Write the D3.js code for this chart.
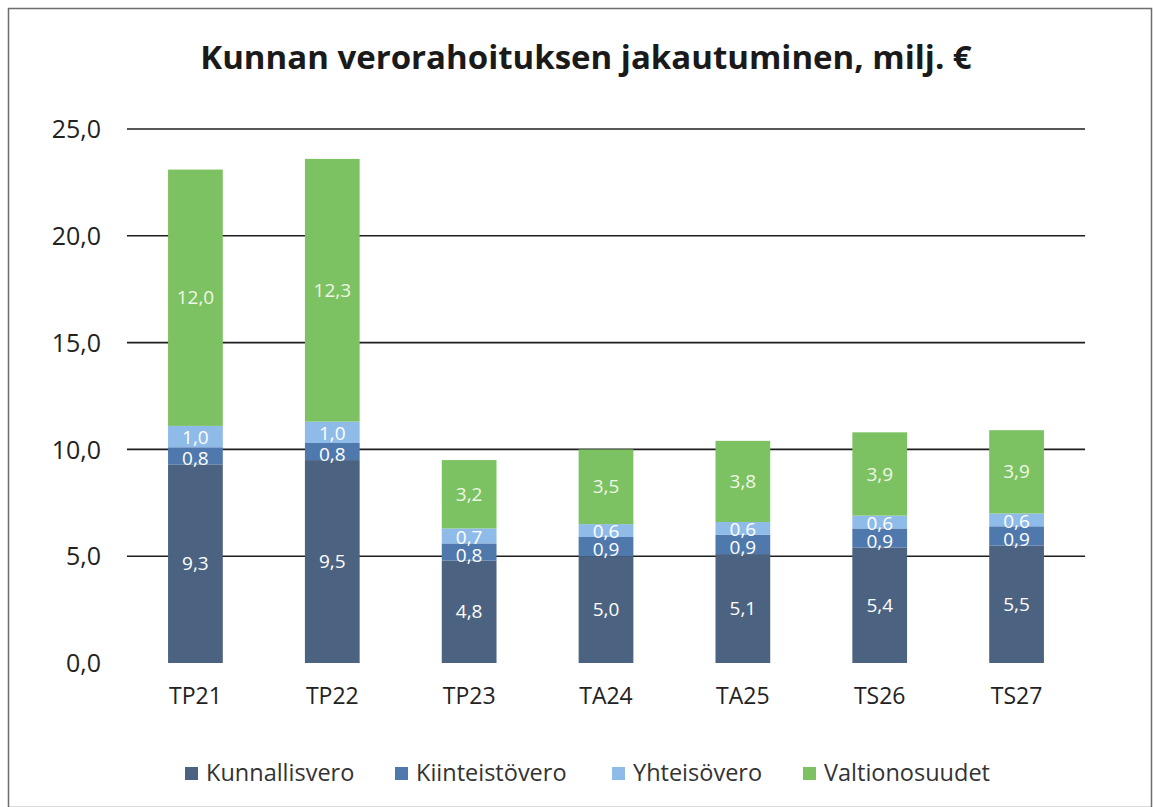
<!DOCTYPE html>
<html><head><meta charset="utf-8">
<script src="https://cdn.jsdelivr.net/npm/d3@7"></script>
<style>body{margin:0;background:#fff}svg{display:block}</style>
</head><body>
<script>
const categories = ["TP21","TP22","TP23","TA24","TA25","TS26","TS27"];
const seriesNames = ["Kunnallisvero","Kiinteistövero","Yhteisövero","Valtionosuudet"];
const kunnallisvero = [9.3,9.5,4.8,5.0,5.1,5.4,5.5];
const kiinteistovero = [0.8,0.8,0.8,0.9,0.9,0.9,0.9];
const yhteisovero = [1.0,1.0,0.7,0.6,0.6,0.6,0.6];
const valtionosuudet = [12.0,12.3,3.2,3.5,3.8,3.9,3.9];
const yTicks = [0,5,10,15,20,25];
const colors = ["#4b6381","#4f78ad","#8fbbe9","#7dc262"];
const title = "Kunnan verorahoituksen jakautuminen, milj. €";

const W=1153,H=807;
const svg=d3.select("body").append("svg").attr("width",W).attr("height",H);
svg.append("rect").attr("x",8.5).attr("y",8.5).attr("width",W-10).attr("height",H-8)
  .attr("fill","#fff").attr("stroke","#6d6d6d").attr("stroke-width",1.5);

const font="'Open Sans', 'DejaVu Sans', sans-serif";
svg.append("text").attr("x",586).attr("y",69).attr("text-anchor","middle")
  .attr("font-family",font).attr("font-weight","bold").attr("font-size",33)
  .attr("fill","#1a1a1a").text(title);

const x=d3.scaleBand().domain(categories).range([127,1085]).paddingInner(0.6).paddingOuter(0.3);
const y=d3.scaleLinear().domain([0,25]).range([663,129]);

const series=[kunnallisvero,kiinteistovero,yhteisovero,valtionosuudet];
const rows=categories.map((c,i)=>{const o={cat:c};seriesNames.forEach((s,j)=>o[s]=series[j][i]);return o;});
const stacked=d3.stack().keys(seriesNames)(rows);

// gridlines
const grid=svg.append("g");
grid.selectAll("line").data(yTicks.filter(t=>t>0)).join("line")
  .attr("x1",127).attr("x2",1085).attr("y1",d=>y(d)).attr("y2",d=>y(d))
  .attr("stroke","#1e1e1e").attr("stroke-width",1.6);

// y axis
const yAxis=svg.append("g").attr("transform","translate(101,0)")
  .call(d3.axisLeft(y).tickValues(yTicks).tickSize(0).tickPadding(0).tickFormat(d=>d3.format(".1f")(d).replace(".",",")));
yAxis.select(".domain").remove();
yAxis.selectAll("text").attr("font-family",font).attr("font-size",25).attr("fill","#222").attr("dy","0.35em");

// x axis
const xAxis=svg.append("g").attr("transform","translate(0,688)")
  .call(d3.axisBottom(x).tickSize(0).tickPadding(0));
xAxis.select(".domain").remove();
xAxis.selectAll("text").attr("font-family",font).attr("font-size",23).attr("fill","#222").attr("dy","0.71em");

// bars
const layers=svg.append("g").selectAll("g").data(stacked).join("g").attr("fill",(d,i)=>colors[i]);
layers.selectAll("rect").data(d=>d).join("rect")
  .attr("x",d=>x(d.data.cat)).attr("width",x.bandwidth())
  .attr("y",d=>y(d[1])).attr("height",d=>y(d[0])-y(d[1]));

// labels
const lab=svg.append("g");
stacked.forEach((layer,i)=>{
  lab.selectAll(null).data(layer).join("text")
    .attr("x",d=>x(d.data.cat)+x.bandwidth()/2)
    .attr("y",d=>(y(d[0])+y(d[1]))/2 + (i===1?3:(i===2?1:0)))
    .attr("dy","0.35em").attr("text-anchor","middle")
    .attr("font-family",font).attr("font-size",19)
    .attr("fill",i===3?"#eef7e6":"#ffffff")
    .text(d=>d3.format(".1f")(d[1]-d[0]).replace(".",","));
});

// legend
const legX=[185,395,612,803];
const leg=svg.append("g");
seriesNames.forEach((s,i)=>{
  leg.append("rect").attr("x",legX[i]).attr("y",767).attr("width",13).attr("height",13).attr("fill",colors[i]);
  leg.append("text").attr("x",legX[i]+21).attr("y",773).attr("dy","0.35em")
    .attr("font-family",font).attr("font-size",23.5).attr("fill","#333").text(s);
});
</script>
</body></html>
